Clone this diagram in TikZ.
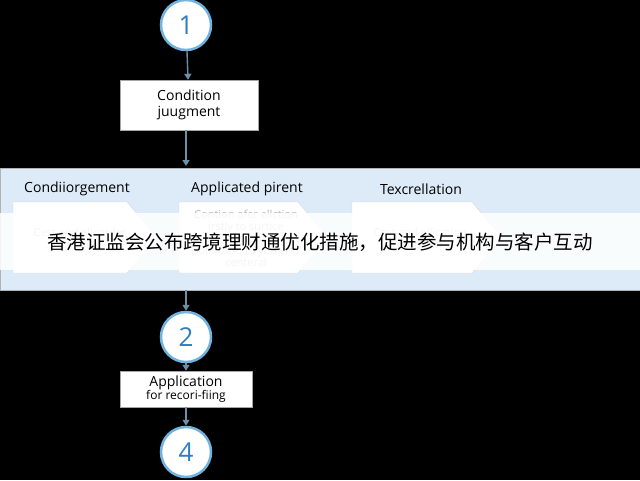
\documentclass[tikz,border=0pt]{standalone}
\usepackage{fontspec}
\setmainfont{Open Sans}
\newfontfamily\cjk{Noto Sans CJK SC}
\usetikzlibrary{positioning,arrows.meta}
\definecolor{ringblue}{HTML}{6FB3E0}
\definecolor{numblue}{HTML}{2F7FC0}
\definecolor{panelblue}{HTML}{DCEBF7}
\definecolor{linegray}{HTML}{6E8FA8}
\tikzset{
  stepnum/.style={circle, draw=ringblue, line width=2.5pt, fill=white,
    minimum size=50pt, font=\fontsize{26}{26}\selectfont, text=numblue},
  task/.style={draw=gray!70, fill=white, align=center, minimum height=36pt,
    font=\fontsize{14}{16}\selectfont},
  chev/.style={draw=gray!30, fill=white},
  chevtext/.style={align=center, text=gray!55, font=\fontsize{11}{12}\selectfont},
  head/.style={font=\fontsize{14}{16}\selectfont},
  flow/.style={-{Triangle[length=6pt,width=7pt]}, line width=1.4pt, draw=linegray}
}
\newcommand\chevron[2]{% left x, body length
  \draw[chev] (#1,-202) -- ++(#2,0) -- ++(30,-35.5) -- ++(-30,-35.5) -- ++(-#2,0) -- cycle;}
\begin{document}
\begin{tikzpicture}[x=1pt,y=1pt]
  \useasboundingbox[fill=black] (0,0) rectangle (640,-480);

  \node[stepnum] (s1) at (186,-25) {1};
  \node[task, minimum width=138pt, minimum height=50pt] (cond) at (189,-105)
    {Condition\\juugment};

  % panel with three stages
  \draw[fill=panelblue, draw=gray!60] (0,-168) rectangle (640,-290);
  \coordinate (ptop) at (186,-166);
  \coordinate (pbot) at (186,-290);
  \node[head] (h1) at (77,-189) {Condiiorgement};
  \node[head] (h2) at (247,-189) {Applicated pirent};
  \node[head] (h3) at (421,-189) {Texcrellation};
  \chevron{13}{114}
  \chevron{179}{119}
  \chevron{352}{120}
  \node[chevtext] (c1) at (80,-238) {Cest and ellcorder\\cordilion};
  \node[chevtext] (c2) at (246,-238) {Contion afer ellction\\irstly to surtice\\appl. of\\poplicaoo to you was\\centeral};
  \node[chevtext] (c3) at (420,-238) {Cest and ellication\\cordilion};

  \node[stepnum] (s2) at (186,-337) {2};
  \node[task, minimum width=132pt] (app) at (186,-389)
    {Application\\[-3pt]{\fontsize{12}{13}\selectfont for recori-fiing}};
  \node[stepnum] (s4) at (186,-452) {4};

  \draw[flow] (s1) -- (cond);
  \draw[flow] (cond.south -| ptop) -- (ptop);
  \draw[flow] (pbot) -- (s2);
  \draw[flow] (s2) -- (app);
  \draw[flow] (app) -- (s4);

  % caption band
  \fill[white, opacity=0.85] (0,-213) rectangle (640,-270);
  \node[font=\cjk\fontsize{19.5}{22}\selectfont] (cap) at (320,-242)
    {香港证监会公布跨境理财通优化措施，促进参与机构与客户互动};
\end{tikzpicture}
\end{document}
